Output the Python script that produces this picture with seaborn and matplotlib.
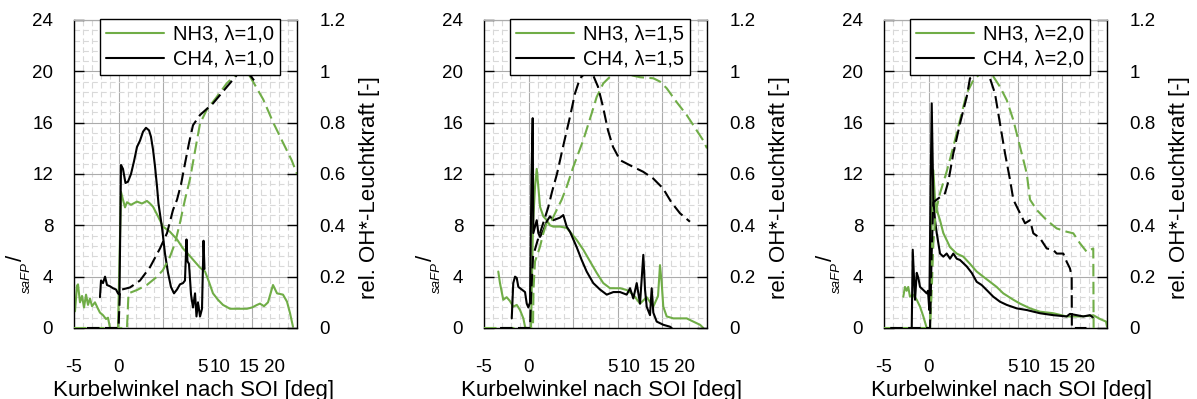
import matplotlib
matplotlib.use('Agg')
import matplotlib.pyplot as plt
import pandas as pd
import seaborn as sns
from matplotlib.ticker import MultipleLocator, FixedLocator
from matplotlib.lines import Line2D

# ---------------- data (crank angle [deg], value) ----------------
lambdas = ['1,0', '1,5', '2,0']
x_tick_pos = [-5, 0, 9.45, 11.35, 14.6, 17.5]
x_tick_labels = ['-5', '0', '5', '10', '15', '20']
y_left_ticks = [0, 4, 8, 12, 16, 20, 24]
y_right_ticks = [0, 0.2, 0.4, 0.6, 0.8, 1.0, 1.2]
y_right_labels = ['0', '0.2', '0.4', '0.6', '0.8', '1', '1.2']

# panel 1, lambda = 1,0
p1_nh3_safp = [(-4.89, 1.3), (-4.66, 3.3), (-4.55, 3.4), (-4.33, 2.0), (-4.10, 2.5), (-3.88, 1.6),
               (-3.65, 2.6), (-3.43, 1.8), (-3.21, 2.3), (-2.98, 1.7), (-2.65, 2.0), (-2.31, 1.5),
               (-2.09, 1.2), (-1.75, 1.0), (-1.41, 0.7), (-1.19, 0.8), (-0.96, 0.0), (-0.07, 0.0),
               (0.27, 10.6), (0.49, 10.0), (0.72, 9.4), (0.94, 9.8), (1.39, 9.6), (2.06, 9.85),
               (2.62, 9.7), (3.18, 9.9), (3.52, 9.7), (3.86, 9.45), (4.42, 8.7), (4.98, 7.9),
               (5.76, 7.5), (6.55, 6.9), (7.22, 6.2), (8.0, 5.6), (9.13, 4.7), (9.69, 4.4),
               (10.13, 3.6), (10.58, 2.7), (11.14, 2.2), (11.70, 1.8), (12.49, 1.5), (13.39, 1.5),
               (14.39, 1.5), (14.96, 1.6), (15.52, 1.8), (15.85, 1.9), (16.30, 1.7), (16.75, 2.0),
               (17.31, 3.35), (17.76, 2.7), (18.43, 2.6), (18.88, 2.05), (19.22, 1.15), (19.55, 0.1)]
p1_ch4_safp = [(-2.09, 2.4), (-1.97, 3.7), (-1.75, 3.5), (-1.52, 4.0), (-1.30, 3.35), (-0.96, 3.25),
               (-0.63, 3.1), (-0.29, 3.0), (-0.07, 2.7), (0.10, 2.6), (0.27, 12.7), (0.49, 12.4),
               (0.77, 11.3), (1.05, 11.4), (1.39, 12.0), (1.73, 13.0), (2.06, 14.1), (2.40, 14.6),
               (2.74, 15.3), (3.07, 15.6), (3.41, 15.4), (3.63, 14.9), (3.86, 13.9), (4.08, 12.6),
               (4.31, 11.0), (4.47, 9.7), (4.87, 7.8), (5.20, 5.8), (5.54, 4.3), (5.87, 3.2),
               (6.21, 2.7), (6.55, 3.0), (6.88, 3.4), (7.22, 3.5), (7.44, 3.7), (7.61, 6.9),
               (7.72, 5.2), (7.89, 5.0), (8.12, 2.6), (8.34, 1.6), (8.57, 2.7), (8.73, 0.9),
               (8.90, 2.0), (9.13, 0.9), (9.35, 1.5), (9.52, 6.8), (9.63, 4.6)]
p1_nh3_oh = [(-5.0, 0.0), (0.94, 0.0), (1.11, 0.135), (2.06, 0.148), (3.18, 0.168), (4.31, 0.2),
             (4.98, 0.226), (5.76, 0.278), (6.32, 0.33), (6.88, 0.41), (7.44, 0.50), (8.0, 0.58),
             (8.57, 0.69), (9.13, 0.797), (9.88, 0.85), (11.0, 0.90), (12.12, 0.953), (13.24, 0.99),
             (13.98, 1.0), (14.73, 0.98), (15.40, 0.94), (16.22, 0.89), (17.34, 0.80), (18.46, 0.72),
             (19.40, 0.654), (20.0, 0.60)]
p1_ch4_oh = [(-3.54, 0.0), (-0.01, 0.0), (0.16, 0.148), (1.28, 0.158), (2.40, 0.185), (3.52, 0.237),
             (4.64, 0.31), (5.43, 0.37), (6.10, 0.46), (6.55, 0.50), (7.00, 0.56), (7.44, 0.64),
             (7.89, 0.72), (8.34, 0.79), (9.13, 0.83), (10.58, 0.875), (12.15, 0.94), (13.61, 1.0),
             (14.39, 1.0), (15.18, 0.965)]

# panel 2, lambda = 1,5
p2_nh3_safp = [(-3.40, 4.4), (-3.21, 3.5), (-2.84, 2.2), (-2.46, 2.4), (-2.09, 2.1), (-1.72, 1.66),
               (-1.33, 1.8), (-0.96, 1.4), (-0.59, 0.75), (-0.40, 0.1), (-0.29, 0.0), (0.27, 0.0),
               (0.49, 8.0), (0.72, 11.0), (0.91, 12.4), (1.09, 11.0), (1.28, 9.45), (1.65, 8.7),
               (2.03, 8.4), (2.40, 8.0), (2.77, 7.9), (3.52, 7.9), (4.27, 7.8), (4.64, 7.5),
               (5.39, 6.86), (6.13, 6.1), (6.88, 5.2), (7.63, 4.3), (8.37, 3.5), (9.13, 3.1),
               (10.25, 3.1), (11.0, 2.96), (11.74, 2.6), (12.49, 1.9), (13.24, 2.4), (13.98, 1.66),
               (14.51, 2.5), (14.73, 4.9), (14.92, 3.5), (15.10, 1.66), (15.48, 0.9), (16.22, 0.75),
               (17.72, 0.75), (18.46, 0.5), (19.22, 0.25), (19.59, 0.0)]
p2_ch4_safp = [(-1.89, 0.75), (-1.72, 3.5), (-1.52, 4.0), (-1.33, 3.9), (-1.15, 3.2), (-0.77, 3.0),
               (-0.40, 2.8), (-0.21, 1.9), (-0.03, 1.6), (0.16, 2.0), (0.33, 12.0), (0.46, 16.35),
               (0.53, 7.4), (0.91, 8.4), (1.09, 7.4), (1.28, 7.1), (1.65, 7.6), (2.03, 8.3),
               (2.40, 8.7), (2.77, 8.4), (3.15, 8.5), (3.52, 8.6), (3.89, 8.8), (4.27, 7.9),
               (4.64, 7.5), (5.39, 6.3), (5.95, 5.3), (6.51, 4.4), (7.25, 3.5), (8.0, 3.0),
               (8.76, 2.6), (9.50, 2.8), (10.25, 2.8), (11.0, 2.6), (11.37, 3.1), (11.74, 2.3),
               (12.12, 3.5), (12.49, 1.9), (12.86, 5.7), (13.05, 3.0), (13.24, 1.66), (13.61, 1.0),
               (13.80, 3.1), (13.98, 1.2), (14.36, 0.5), (15.10, 0.25), (15.85, 0.1), (16.04, 0.0)]
p2_nh3_oh = [(-5.0, 0.0), (0.49, 0.0), (0.55, 0.15), (0.72, 0.26), (0.91, 0.278), (1.28, 0.317),
             (1.65, 0.369), (2.03, 0.41), (2.59, 0.42), (3.15, 0.46), (3.71, 0.50), (4.27, 0.55),
             (5.01, 0.628), (6.13, 0.732), (7.07, 0.836), (7.63, 0.90), (8.37, 0.953), (9.13, 0.979),
             (10.25, 0.995), (11.37, 0.986), (12.49, 0.977), (13.98, 0.973), (14.73, 0.96),
             (15.48, 0.934), (16.60, 0.88), (17.72, 0.83), (18.84, 0.77), (19.59, 0.73), (20.0, 0.70)]
p2_ch4_oh = [(-3.2, 0.0), (0.16, 0.0), (0.27, 0.12), (0.50, 0.28), (1.00, 0.34), (1.65, 0.41),
             (2.20, 0.47), (2.62, 0.53), (3.18, 0.60), (3.86, 0.706), (4.64, 0.823), (5.20, 0.914),
             (5.76, 0.973), (6.32, 0.992), (6.88, 1.0), (7.22, 0.986), (7.78, 0.94), (8.34, 0.862),
             (8.90, 0.77), (9.46, 0.706), (10.25, 0.654), (11.03, 0.64), (11.70, 0.628),
             (12.83, 0.609), (13.95, 0.583), (15.07, 0.544), (16.0, 0.49), (16.97, 0.447),
             (18.09, 0.414)]

# panel 3, lambda = 2,0
p3_nh3_safp = [(-2.84, 2.44), (-2.65, 3.2), (-2.46, 2.9), (-2.28, 3.2), (-2.09, 2.44), (-1.75, 2.6),
               (-1.33, 2.2), (-0.96, 1.66), (-0.59, 0.9), (-0.21, 0.0), (0.16, 0.0), (0.33, 8.0),
               (0.53, 12.3), (0.72, 10.0), (0.91, 9.2), (1.28, 8.4), (1.65, 7.4), (2.40, 6.3),
               (3.15, 5.8), (3.89, 5.56), (4.64, 5.0), (5.39, 4.4), (6.13, 4.0), (6.88, 3.6),
               (7.63, 3.2), (8.37, 2.7), (9.50, 2.2), (10.25, 1.9), (11.37, 1.53), (12.49, 1.27),
               (13.98, 1.15), (15.48, 0.9), (16.97, 0.9), (18.09, 0.95), (18.46, 1.0), (19.22, 0.7),
               (19.89, 0.5), (20.0, 0.1)]
p3_ch4_safp = [(-1.89, 0.0), (-1.78, 6.1), (-1.52, 2.2), (-1.33, 4.3), (-1.15, 3.9), (-0.96, 3.2),
               (-0.59, 2.96), (-0.21, 2.7), (-0.07, 2.9), (0.08, 1.4), (0.21, 10.0), (0.35, 17.5),
               (0.53, 10.0), (0.72, 8.4), (0.91, 7.4), (1.28, 5.8), (1.65, 5.56), (2.03, 5.8),
               (2.40, 5.4), (2.77, 5.8), (3.15, 5.4), (3.52, 5.3), (4.27, 4.8), (4.83, 4.3),
               (5.39, 3.6), (5.95, 3.35), (6.51, 2.96), (7.25, 2.44), (8.0, 2.05), (8.76, 1.8),
               (9.88, 1.53), (11.0, 1.4), (12.49, 1.15), (13.98, 1.0), (15.48, 0.9), (15.85, 1.1),
               (16.60, 1.0), (17.34, 0.9), (18.09, 1.0), (18.46, 0.8)]
p3_nh3_oh = [(-5.0, 0.0), (0.16, 0.0), (0.35, 0.148), (0.53, 0.33), (0.72, 0.42), (0.91, 0.47),
             (1.28, 0.525), (2.03, 0.61), (2.77, 0.706), (3.52, 0.81), (4.27, 0.914), (5.02, 0.966),
             (5.76, 0.99), (6.51, 0.995), (7.25, 0.98), (8.0, 0.94), (8.76, 0.888), (9.50, 0.81),
             (10.25, 0.706), (11.0, 0.603), (11.37, 0.5), (12.12, 0.46), (13.24, 0.42),
             (14.36, 0.388), (15.48, 0.375), (16.22, 0.369), (16.97, 0.33), (17.72, 0.297),
             (18.46, 0.31), (18.50, 0.0)]
p3_ch4_oh = [(-4.3, 0.0), (0.16, 0.0), (0.35, 0.30), (0.53, 0.49), (1.28, 0.51), (1.84, 0.525),
             (2.21, 0.57), (2.77, 0.68), (3.52, 0.797), (4.27, 0.90), (4.64, 0.973), (5.39, 0.992),
             (6.13, 0.995), (6.88, 0.973), (7.44, 0.914), (8.0, 0.797), (8.57, 0.68), (9.13, 0.577),
             (9.50, 0.5), (10.25, 0.447), (10.81, 0.408), (11.37, 0.42), (11.74, 0.369),
             (12.49, 0.35), (13.24, 0.31), (13.98, 0.304), (14.36, 0.29), (15.10, 0.29),
             (15.48, 0.258), (15.85, 0.232), (16.04, 0.2), (16.06, 0.0), (17.7, 0.0)]

panels = [
    (lambdas[0], p1_nh3_safp, p1_ch4_safp, p1_nh3_oh, p1_ch4_oh),
    (lambdas[1], p2_nh3_safp, p2_ch4_safp, p2_nh3_oh, p2_ch4_oh),
    (lambdas[2], p3_nh3_safp, p3_ch4_safp, p3_nh3_oh, p3_ch4_oh),
]

# ---------------- style ----------------
sns.set_style('white')
plt.rcParams['font.family'] = ['Liberation Sans', 'DejaVu Sans']
for k in ('text.color', 'axes.labelcolor', 'xtick.color', 'ytick.color', 'axes.edgecolor'):
    plt.rcParams[k] = 'black'

GREEN = '#70AD47'
BLACK = '#000000'
MAJ = '#ABABAB'
MIN = '#D9D9D9'
LW = 1.5
DASH = (0, (6, 2.6))

W, H = 1197, 399
lefts_px = [74, 484, 884]
xlabel_cx = [194, 602, 1012]
AX_W, AX_TOP, AX_BOT = 223, 20, 328

fig = plt.figure(figsize=(W / 100, H / 100), dpi=100)


def draw_line(ax, pts, color, dashed=False):
    df = pd.DataFrame(pts, columns=['angle', 'value'])
    kw = dict(color=color, lw=LW, estimator=None, sort=False, ax=ax)
    if dashed:
        kw['linestyle'] = DASH
    sns.lineplot(data=df, x='angle', y='value', **kw)


for i, (lam, nh3_sa, ch4_sa, nh3_oh, ch4_oh) in enumerate(panels):
    lp = lefts_px[i]
    ax = fig.add_axes([lp / W, (H - AX_BOT) / H, AX_W / W, (AX_BOT - AX_TOP) / H])
    ax2 = ax.twinx()

    draw_line(ax, nh3_sa, GREEN)
    draw_line(ax, ch4_sa, BLACK)
    draw_line(ax2, nh3_oh, GREEN, dashed=True)
    draw_line(ax2, ch4_oh, BLACK, dashed=True)

    ax.set_xlim(-5, 20)
    ax.set_ylim(0, 24)
    ax2.set_ylim(0, 1.2)
    ax.set_xlabel('')
    ax.set_ylabel('')
    ax2.set_ylabel('')
    ax2.set_xlabel('')

    ax.xaxis.set_major_locator(FixedLocator([-5, 0, 5, 10, 15, 20]))
    ax.set_xticklabels([])
    ax.xaxis.set_minor_locator(MultipleLocator(1))
    ax.yaxis.set_major_locator(FixedLocator(y_left_ticks))
    ax.set_yticklabels([str(v) for v in y_left_ticks])
    ax.yaxis.set_minor_locator(MultipleLocator(0.8))
    ax.tick_params(axis='x', which='major', direction='in', length=5, width=1, color='black')
    ax.tick_params(axis='y', which='major', direction='in', length=7, width=1, color='black',
                   labelsize=13.5, pad=15)
    ax.tick_params(which='minor', length=0)
    ax.grid(which='major', color=MAJ, lw=0.8)
    ax.grid(which='minor', color=MIN, lw=0.8, ls=(0, (5, 3)))
    ax.set_axisbelow(True)

    ax2.yaxis.set_major_locator(FixedLocator(y_right_ticks))
    ax2.set_yticklabels(y_right_labels)
    ax2.tick_params(axis='y', which='major', direction='in', length=7, width=1, color='black',
                    labelsize=13.5, pad=16)
    ax2.tick_params(which='minor', length=0)

    for a in (ax, ax2):
        a.spines['top'].set_color(MAJ)
        a.spines['top'].set_linewidth(0.8)
    ax.spines['left'].set_color('black')
    ax.spines['bottom'].set_color('black')
    ax.spines['right'].set_visible(False)
    ax2.spines['left'].set_visible(False)
    ax2.spines['bottom'].set_visible(False)
    ax2.spines['right'].set_color('black')
    for s in ('left', 'bottom'):
        ax.spines[s].set_linewidth(1.0)
    ax2.spines['right'].set_linewidth(1.0)

    sec = ax.secondary_xaxis('bottom')
    sec.set_xticks(x_tick_pos, labels=x_tick_labels)
    sec.tick_params(length=0, labelsize=13.5, pad=22)
    sec.spines['bottom'].set_visible(False)

    handles = [Line2D([], [], color=GREEN, lw=LW), Line2D([], [], color=BLACK, lw=LW)]
    leg = ax2.legend(handles, [f'NH3, λ={lam}', f'CH4, λ={lam}'], loc='upper right',
                     bbox_to_anchor=(0.924, 1.004), fontsize=14.5, frameon=True, fancybox=False,
                     edgecolor='black', framealpha=1, handlelength=2.9, handletextpad=0.45,
                     labelspacing=0.3, borderpad=0.3, borderaxespad=0)
    leg.get_frame().set_linewidth(1.0)

    # axis titles
    fig.text(xlabel_cx[i] / W, 1 - 396 / H, 'Kurbelwinkel nach SOI [deg]', ha='center',
             va='baseline', fontsize=16)
    fig.text((lp + AX_W + 73) / W, 1 - 187.5 / H, 'rel. OH*-Leuchtkraft [-]', rotation=90,
             ha='center', va='center', fontsize=16)
    fig.text((lp - 58) / W, 1 - 258 / H, '/', rotation=90, ha='center', va='center',
             fontsize=16)
    fig.text((lp - 47) / W, 1 - 277.5 / H, 'saFP', rotation=90, ha='center', va='center',
             fontsize=9.5, style='italic')

fig.savefig('out.png', dpi=100)
